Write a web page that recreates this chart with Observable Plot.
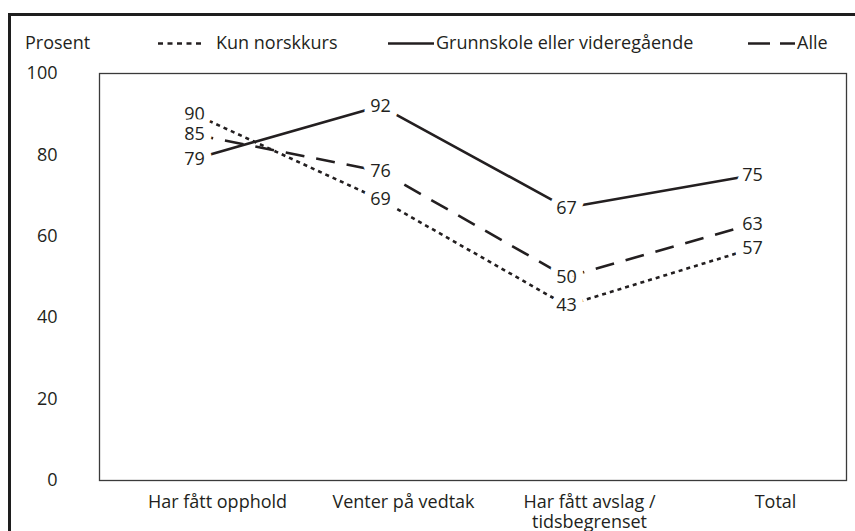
<!DOCTYPE html>
<html>
<head>
<meta charset="utf-8">
<script src="https://cdn.jsdelivr.net/npm/d3@7"></script>
<script src="https://cdn.jsdelivr.net/npm/@observablehq/plot@0.6"></script>
<style>
  html, body { margin: 0; padding: 0; background: #fff; overflow: hidden; width: 855px; height: 531px; }
  body { font-family: "Open Sans", sans-serif; color: #231f20; }
  #box { position: absolute; left: 8px; top: 13px; width: 900px; height: 600px;
         border-left: 3.4px solid #1e1e1e; border-top: 3px solid #1e1e1e; }
  .hdr { position: absolute; top: 29px; height: 26px; line-height: 26px; font-size: 18px; white-space: nowrap; }
  .hdr svg { position: absolute; top: 0; }
  #chart { position: absolute; left: 0; top: 50px; }
</style>
</head>
<body>
<div id="box"></div>
<div id="header"></div>
<div id="chart"></div>
<script>
// ---- data ----
const categories = ["Har fått opphold", "Venter på vedtak", "Har fått avslag /\ntidsbegrenset", "Total"];
const seriesNames = ["Kun norskkurs", "Grunnskole eller videregående", "Alle"];
const kunNorskkurs = [90, 69, 43, 57];
const grunnskole = [79, 92, 67, 75];
const alle = [85, 76, 50, 63];
const yTicks = [0, 20, 40, 60, 80, 100];
const yLabel = "Prosent";

const seriesValues = [kunNorskkurs, grunnskole, alle];
const dashes = ["4,4", null, "19,12"];
const legendDashes = ["5,4.5", null, "22,10"];

const rows = [];
seriesNames.forEach((s, si) => {
  categories.forEach((c, ci) => rows.push({series: s, cat: c, value: seriesValues[si][ci]}));
});

// ---- header: y label + legend ----
const header = document.getElementById("header");
const ink = "#231f20";
function addText(txt, left) {
  const d = document.createElement("div");
  d.className = "hdr";
  d.style.left = left + "px";
  d.textContent = txt;
  header.appendChild(d);
}
addText(yLabel, 25);
const legendLayout = [
  {swatchLeft: 158, swatchW: 45, textLeft: 216},
  {swatchLeft: 388, swatchW: 46, textLeft: 436},
  {swatchLeft: 748, swatchW: 47, textLeft: 797}
];
seriesNames.forEach((s, i) => {
  const L = legendLayout[i];
  const wrap = document.createElement("div");
  wrap.className = "hdr";
  wrap.style.left = L.swatchLeft + "px";
  wrap.style.width = L.swatchW + "px";
  wrap.innerHTML = `<svg width="${L.swatchW}" height="26"><line x1="0" x2="${L.swatchW}" y1="14.5" y2="14.5" stroke="${ink}" stroke-width="2.6" ${legendDashes[i] ? `stroke-dasharray="${legendDashes[i]}"` : ""}/></svg>`;
  header.appendChild(wrap);
  addText(s, L.textLeft);
});

// ---- chart ----
const lineMarks = seriesNames.map((s, i) =>
  Plot.line(rows.filter(d => d.series === s), {
    x: "cat", y: "value", stroke: ink, strokeWidth: 2.6,
    strokeDasharray: dashes[i] || undefined, strokeLinecap: "butt"
  })
);

const chart = Plot.plot({
  width: 855,
  height: 481,
  marginTop: 23,
  marginBottom: 51,
  marginLeft: 99,
  marginRight: 9,
  style: {fontFamily: "Open Sans, sans-serif", fontSize: "18px", color: ink, background: "transparent"},
  x: {type: "point", domain: categories, padding: 0.5, label: null},
  y: {domain: [0, 100], label: null},
  marks: [
    ...lineMarks,
    Plot.text(rows, {x: "cat", y: "value", text: d => String(d.value), fill: ink,
      stroke: "white", strokeWidth: 15, strokeLinejoin: "round", fontSize: 18}),
    Plot.frame({stroke: "#3a3a3a", strokeWidth: 1.3}),
    Plot.axisY(yTicks, {tickSize: 0, tickPadding: 42, label: null, fontSize: 18}),
    Plot.axisX({tickSize: 0, tickPadding: 14, dx: 23, label: null, fontSize: 18, lineHeight: 1.08})
  ]
});
document.getElementById("chart").appendChild(chart);
</script>
</body>
</html>
